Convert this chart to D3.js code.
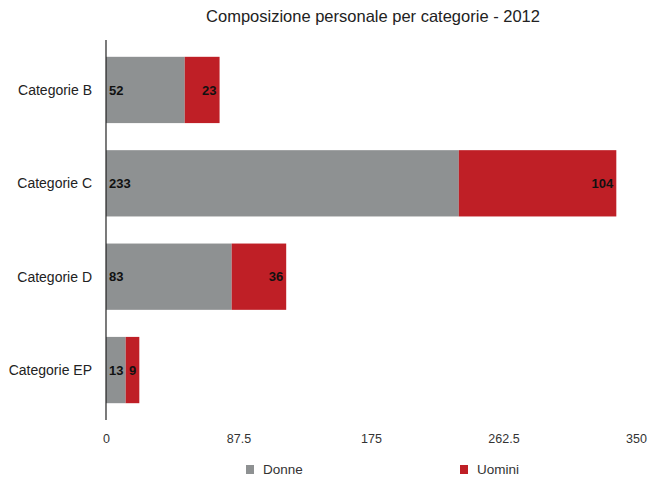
<!DOCTYPE html>
<html>
<head>
<script src="https://cdn.jsdelivr.net/npm/d3@7"></script>
<style>
  body { margin: 0; background: #fff; }
  text { font-family: "Liberation Sans", Arial, sans-serif; }
</style>
</head>
<body>
<svg id="mainsvg" width="655" height="481"></svg>
<script>
const categories = ['Categorie B', 'Categorie C', 'Categorie D', 'Categorie EP']
const donne = [52, 233, 83, 13]
const uomini = [23, 104, 36, 9]
const ticks = [0, 87.5, 175, 262.5, 350]
const seriesNames = ['Donne', 'Uomini']
const colors = ['#8e9192', '#bf1f26']

const svg = d3.select('#mainsvg')
const margin = {top: 40, right: 19, bottom: 61, left: 106}
const width = +svg.attr('width')
const height = +svg.attr('height')
const innerW = width - margin.left - margin.right
const innerH = height - margin.top - margin.bottom

svg.append('text')
  .attr('x', margin.left + innerW / 2 + 2).attr('y', 22)
  .attr('text-anchor', 'middle')
  .attr('font-size', 16.5)
  .attr('fill', '#222')
  .text('Composizione personale per categorie - 2012')

const g = svg.append('g').attr('transform', `translate(${margin.left},${margin.top})`)

const x = d3.scaleLinear().domain([0, 350]).range([0, innerW])
const y = d3.scaleBand().domain(categories).range([0, innerH]).paddingInner(0.29).paddingOuter(0.18)

const rows = categories.map((c, i) => ({cat: c, Donne: donne[i], Uomini: uomini[i]}))
const stacked = d3.stack().keys(seriesNames)(rows)

const layer = g.selectAll('g.layer').data(stacked).join('g')
  .attr('class', 'layer')
  .attr('fill', (d, i) => colors[i])

layer.selectAll('rect').data(d => d).join('rect')
  .attr('x', d => x(d[0]))
  .attr('y', d => y(d.data.cat))
  .attr('width', d => x(d[1]) - x(d[0]))
  .attr('height', y.bandwidth())

// value labels: grey at start, red at end
layer.each(function(s, i) {
  d3.select(this).selectAll('text').data(s).join('text')
    .attr('x', d => i === 0 ? x(d[0]) + 3 : x(d[1]) - 3)
    .attr('y', d => y(d.data.cat) + y.bandwidth() / 2)
    .attr('dy', '0.35em')
    .attr('text-anchor', i === 0 ? 'start' : 'end')
    .attr('font-size', 13)
    .attr('font-weight', 'bold')
    .attr('fill', '#111')
    .text(d => d.data[s.key])
})

// category labels
g.selectAll('text.cat').data(categories).join('text')
  .attr('class', 'cat')
  .attr('x', -14)
  .attr('y', d => y(d) + y.bandwidth() / 2)
  .attr('dy', '0.35em')
  .attr('text-anchor', 'end')
  .attr('font-size', 14)
  .attr('fill', '#222')
  .text(d => d)

g.append('line')
  .attr('x1', 0).attr('x2', 0).attr('y1', 0).attr('y2', innerH)
  .attr('stroke', '#222').attr('stroke-width', 1.2)

const xAxis = d3.axisBottom(x).tickValues(ticks).tickSize(0).tickPadding(14)
  .tickFormat(d => d)
const ax = g.append('g').attr('transform', `translate(0,${innerH})`).call(xAxis)
ax.select('.domain').remove()
ax.selectAll('text').attr('font-size', 12.5).attr('fill', '#333')
  .style('font-family', '"Liberation Sans", Arial, sans-serif')

// legend
const legendX = [246, 460]
const leg = svg.selectAll('g.leg').data(seriesNames).join('g')
  .attr('class', 'leg')
  .attr('transform', (d, i) => `translate(${legendX[i]},${height - 12})`)
leg.append('rect').attr('x', 0).attr('y', -4).attr('width', 8).attr('height', 9)
  .attr('fill', (d, i) => colors[i])
leg.append('text').attr('x', 17).attr('y', 0).attr('dy', '0.35em')
  .attr('font-size', 13.5).attr('fill', '#333').text(d => d)
</script>
</body>
</html>
